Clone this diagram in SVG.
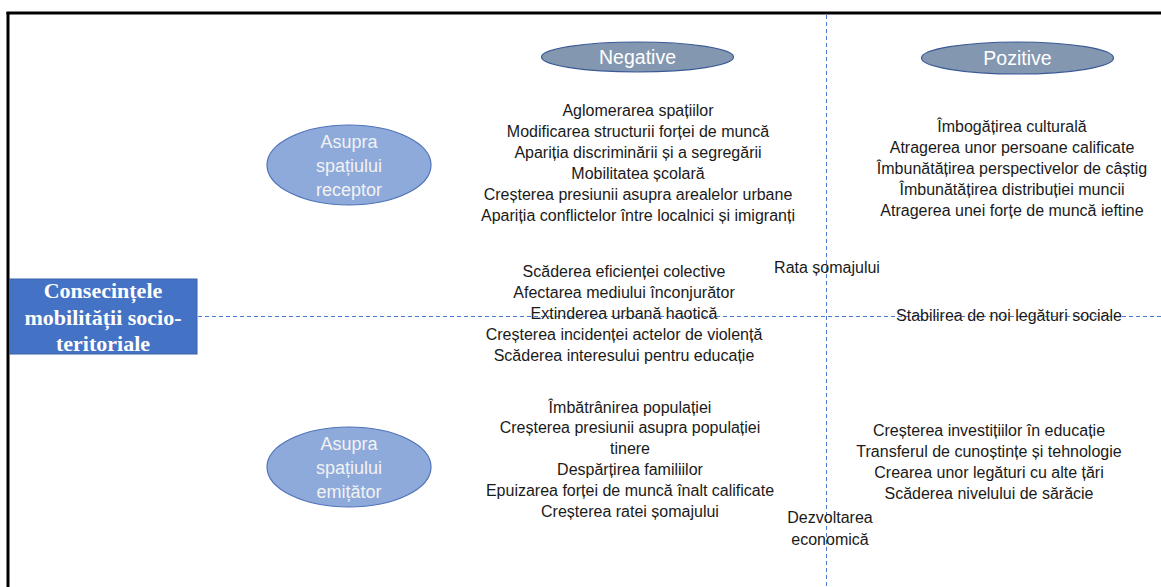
<svg xmlns="http://www.w3.org/2000/svg" width="1161" height="587" viewBox="0 0 1161 587">
<style>
.t{font-family:"Liberation Sans",Arial,sans-serif;font-size:16px;fill:#1a1a1a;text-anchor:middle}
.e{font-family:"Liberation Sans",Arial,sans-serif;font-size:18px;fill:#f2f2f2;text-anchor:middle}
.h{font-family:"Liberation Sans",Arial,sans-serif;font-size:19.5px;fill:#ffffff;text-anchor:middle}
.b{font-family:"Liberation Serif","Times New Roman",serif;font-size:22px;font-weight:bold;fill:#ffffff;text-anchor:middle}
.d{stroke:#4a7bd0;stroke-width:1;stroke-dasharray:4 3;fill:none}
.oe{fill:#8eaadb;stroke:#4f72b8;stroke-width:1.2}
.oh{fill:#8497b0;stroke:#3a5a96;stroke-width:1.2}
</style>
<rect x="0" y="0" width="1161" height="587" fill="#ffffff"/>
<g id="frame">
<line x1="6.5" y1="13" x2="1161" y2="13" stroke="#000" stroke-width="3"/>
<line x1="8" y1="12" x2="8" y2="587" stroke="#000" stroke-width="3"/>
</g>
<g id="connectors">
<line class="d" x1="198" y1="316.5" x2="1161" y2="316.5"/>
<line class="d" x1="826.5" y1="15" x2="826.5" y2="587"/>
</g>
<g id="root">
<rect x="9.5" y="279" width="187.5" height="75" fill="#4472c4" stroke="#3a62ad" stroke-width="1"/>
<text class="b" x="103" y="298">Consecințele</text>
<text class="b" x="103" y="325">mobilității socio-</text>
<text class="b" x="103" y="351">teritoriale</text>
</g>
<g id="receptor">
<ellipse class="oe" cx="349" cy="165" rx="82" ry="40"/>
<text class="e" x="349" y="148">Asupra</text>
<text class="e" x="349" y="172">spațiului</text>
<text class="e" x="349" y="196">receptor</text>
</g>
<g id="emitator">
<ellipse class="oe" cx="349" cy="467" rx="82" ry="40"/>
<text class="e" x="349" y="450">Asupra</text>
<text class="e" x="349" y="474">spațiului</text>
<text class="e" x="349" y="498">emițător</text>
</g>
<g id="negative">
<ellipse class="oh" cx="637.5" cy="57" rx="96" ry="15"/>
<text class="h" x="637.5" y="64">Negative</text>
</g>
<g id="pozitive">
<ellipse class="oh" cx="1017.5" cy="58" rx="96" ry="16"/>
<text class="h" x="1017.5" y="65">Pozitive</text>
</g>
<g id="neg-receptor">
<text class="t" x="638" y="116">Aglomerarea spațiilor</text>
<text class="t" x="638" y="137">Modificarea structurii forței de muncă</text>
<text class="t" x="638" y="158">Apariția discriminării și a segregării</text>
<text class="t" x="638" y="179">Mobilitatea școlară</text>
<text class="t" x="638" y="200">Creșterea presiunii asupra arealelor urbane</text>
<text class="t" x="638" y="221">Apariția conflictelor între localnici și imigranți</text>
</g>
<g id="neg-middle">
<text class="t" x="624" y="277">Scăderea eficienței colective</text>
<text class="t" x="624" y="298">Afectarea mediului înconjurător</text>
<text class="t" x="624" y="319">Extinderea urbană haotică</text>
<text class="t" x="624" y="340">Creșterea incidenței actelor de violență</text>
<text class="t" x="624" y="361">Scăderea interesului pentru educație</text>
</g>
<g id="neg-emitator">
<text class="t" x="630" y="413">Îmbătrânirea populației</text>
<text class="t" x="630" y="433">Creșterea presiunii asupra populației</text>
<text class="t" x="630" y="454">tinere</text>
<text class="t" x="630" y="475">Despărțirea familiilor</text>
<text class="t" x="630" y="496">Epuizarea forței de muncă înalt calificate</text>
<text class="t" x="630" y="517">Creșterea ratei șomajului</text>
</g>
<g id="rata">
<text class="t" x="827" y="273">Rata șomajului</text>
</g>
<g id="dezvoltarea">
<text class="t" x="830" y="523">Dezvoltarea</text>
<text class="t" x="830" y="545">economică</text>
</g>
<g id="stabilirea">
<text class="t" x="1009" y="321">Stabilirea de noi legături sociale</text>
</g>
<g id="poz-receptor">
<text class="t" x="1012" y="132">Îmbogățirea culturală</text>
<text class="t" x="1012" y="153">Atragerea unor persoane calificate</text>
<text class="t" x="1012" y="174">Îmbunătățirea perspectivelor de câștig</text>
<text class="t" x="1012" y="195">Îmbunătățirea distribuției muncii</text>
<text class="t" x="1012" y="216">Atragerea unei forțe de muncă ieftine</text>
</g>
<g id="poz-emitator">
<text class="t" x="989" y="436">Creșterea investițiilor în educație</text>
<text class="t" x="989" y="457">Transferul de cunoștințe și tehnologie</text>
<text class="t" x="989" y="478">Crearea unor legături cu alte țări</text>
<text class="t" x="989" y="499">Scăderea nivelului de sărăcie</text>
</g>
</svg>
